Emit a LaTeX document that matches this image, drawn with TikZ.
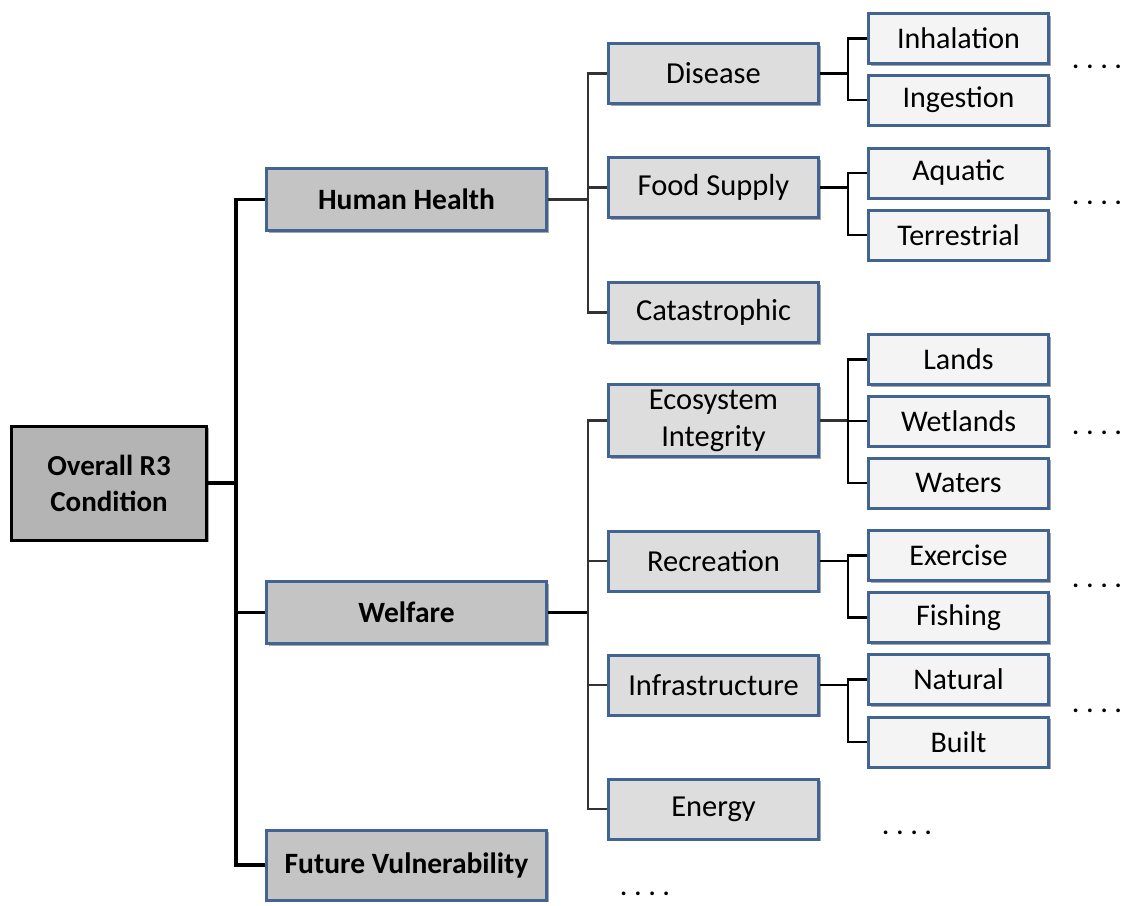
\documentclass[tikz,border=0pt]{standalone}
\usepackage{fontspec}
\setmainfont{Carlito}
\usetikzlibrary{shadows}

\definecolor{boxedge}{RGB}{66,100,146}
\definecolor{rootfill}{RGB}{180,180,180}
\definecolor{topfill}{RGB}{196,196,196}
\definecolor{midfill}{RGB}{221,221,221}
\definecolor{leaffill}{RGB}{244,244,244}
\definecolor{midline}{RGB}{50,50,50}

\tikzset{every picture/.style={line width=0.75pt}}

\begin{document}
\begin{tikzpicture}[x=1pt,y=1pt,yscale=-1,xscale=1,
  boxshadow/.style={drop shadow={shadow xshift=2pt,shadow yshift=-2pt,fill=black,opacity=0.35}},
  rootbox/.style={draw=black,line width=3pt,fill=rootfill,boxshadow,minimum width=195pt,minimum height=114pt,inner sep=0pt,align=center,font=\fontsize{29}{36}\selectfont\bfseries},
  topbox/.style={draw=boxedge,line width=3pt,fill=topfill,boxshadow,minimum width=280pt,minimum height=62pt,inner sep=0pt,font=\fontsize{29.5}{34}\selectfont\bfseries},
  midbox/.style={draw=boxedge,line width=3pt,fill=midfill,boxshadow,minimum width=210pt,minimum height=60pt,inner sep=0pt,align=center,font=\fontsize{30.5}{37}\selectfont},
  leafbox/.style={draw=boxedge,line width=3pt,fill=leaffill,boxshadow,minimum width=180pt,minimum height=50pt,inner sep=0pt,font=\fontsize{30}{34}\selectfont},
  dots/.style={anchor=base,inner sep=0pt,font=\fontsize{25}{28}\selectfont\bfseries},
  trunkline/.style={draw=black,line width=3.5pt},
  midconn/.style={draw=midline,line width=2.5pt},
  leafconn/.style={draw=black,line width=2.5pt}]
\useasboundingbox (0,0) rectangle (1129,905);

% Root
\node[rootbox] (root) at (109,483) {Overall R3\\Condition};

% First level
\node[topbox] (hh) at (406.5,199.5) {Human Health};
\node[topbox] (wel) at (406.5,612.5) {Welfare};
\node[topbox,minimum height=70pt] (fut) at (406.5,865) {Future Vulnerability};

% Second level
\node[midbox] (dis) at (713.5,73.5) {Disease};
\node[midbox] (food) at (713.5,187.5) {Food Supply};
\node[midbox] (cat) at (713.5,312.5) {Catastrophic};
\node[midbox,minimum height=72pt] (eco) at (713.5,420.5) {Ecosystem\\Integrity};
\node[midbox] (rec) at (713.5,561) {Recreation};
\node[midbox] (inf) at (713.5,685) {Infrastructure};
\node[midbox] (ene) at (713.5,809) {Energy};

% Third level
\node[leafbox] (inh) at (958.5,38.5) {Inhalation};
\node[leafbox] (ing) at (958.5,100) {Ingestion};
\node[leafbox] (aqu) at (958.5,173) {Aquatic};
\node[leafbox] (ter) at (958.5,235) {Terrestrial};
\node[leafbox] (lan) at (958.5,359.5) {Lands};
\node[leafbox] (wet) at (958.5,421) {Wetlands};
\node[leafbox] (wat) at (958.5,483) {Waters};
\node[leafbox] (exe) at (958.5,555.5) {Exercise};
\node[leafbox] (fis) at (958.5,617.5) {Fishing};
\node[leafbox] (nat) at (958.5,679.5) {Natural};
\node[leafbox] (bui) at (958.5,742) {Built};

% Continuation dots
\node[dots] (dDis) at (1097,68) {. . . .};
\node[dots] (dFood) at (1097,204) {. . . .};
\node[dots] (dEco) at (1097,434) {. . . .};
\node[dots] (dRec) at (1097,587) {. . . .};
\node[dots] (dInf) at (1097,712) {. . . .};
\node[dots] (dEne) at (907,834) {. . . .};
\node[dots] (dFut) at (645,895) {. . . .};

% Root connectors
\coordinate (rootJ) at (236,483);
\draw[trunkline] (root.east) -- (rootJ);
\foreach \c in {hh,wel,fut}
  \draw[trunkline] (rootJ) |- (\c.west);

% First level connectors
\coordinate (hhJ) at (588,199.5);
\coordinate (welJ) at (588,612.5);
\draw[midconn] (hh.east) -- (hhJ);
\draw[trunkline] (wel.east) -- (welJ);
\foreach \c in {dis,food,cat}
  \draw[midconn] (hhJ) |- (\c.west);
\foreach \c in {eco,rec,inf,ene}
  \draw[midconn] (welJ) |- (\c.west);

% Second level connectors
\foreach \p/\a/\b in {dis/inh/ing,food/aqu/ter,rec/exe/fis,inf/nat/bui}{
  \draw[leafconn] (\p.east) -- ++(28,0) coordinate (pJ);
  \draw[leafconn] (pJ) |- (\a.west);
  \draw[leafconn] (pJ) |- (\b.west);
}
\coordinate (ecoJ) at (848,420.5);
\draw[midconn] (eco.east) -- (ecoJ);
\foreach \c in {lan,wet,wat}
  \draw[leafconn] (ecoJ) |- (\c.west);

\end{tikzpicture}
\end{document}
